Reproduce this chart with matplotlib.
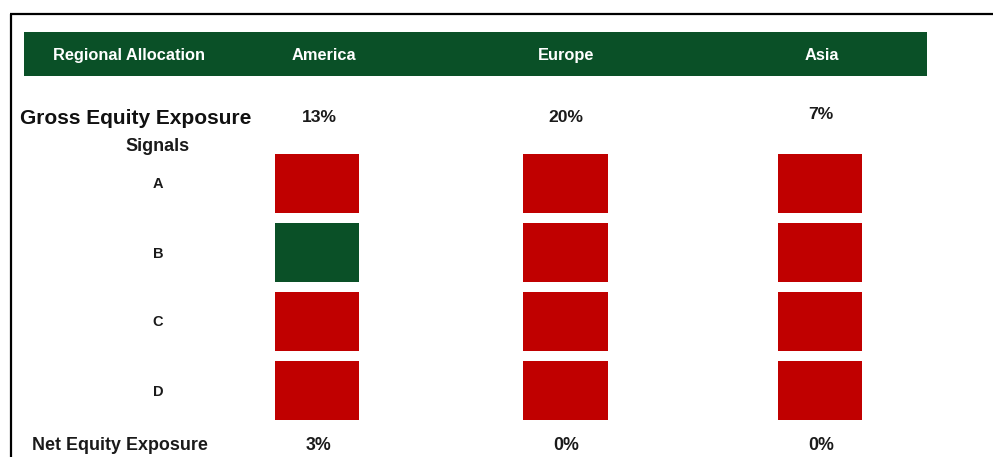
import matplotlib.pyplot as plt

plt.rcParams['font.family'] = ['Liberation Sans', 'DejaVu Sans']

regions = ['America', 'Europe', 'Asia']
gross_exposure = ['13%', '20%', '7%']
net_exposure = ['3%', '0%', '0%']
signal_names = ['A', 'B', 'C', 'D']
# 1 = positive (green), 0 = negative (red)
signals = {
    'America': [0, 1, 0, 0],
    'Europe': [0, 0, 0, 0],
    'Asia': [0, 0, 0, 0],
}

green = '#0a5027'
red = '#c00000'
ink = '#1a1a1a'

# layout, in pixels of the 993x457 picture (text y = baseline)
col_x = [319, 566, 821]
box_x = [317, 565, 820]
box_w = [84, 85, 84]
row_top = [154, 223, 292, 361]
box_h = 59

fig = plt.figure(figsize=(9.93, 4.57), dpi=100)
ax = fig.add_axes([0, 0, 1, 1])
ax.set_xlim(0, 993)
ax.set_ylim(457, 0)
ax.axis('off')

# frame lines
ax.plot([10, 993], [14, 14], color='black', lw=1.6, solid_capstyle='butt')
ax.plot([11, 11], [14, 457], color='black', lw=1.6, solid_capstyle='butt')

# header band
ax.barh(54, 903, height=44, left=24, color=green)
ax.text(129, 60, 'Regional Allocation', color='white', fontsize=11.8,
        fontweight='bold', ha='center', va='baseline')
for x, name in zip([324, 566, 822], regions):
    ax.text(x, 60, name, color='white', fontsize=11.8, fontweight='bold',
            ha='center', va='baseline')

ax.text(136, 124, 'Gross Equity Exposure', fontsize=15, fontweight='bold',
        ha='center', va='baseline', color='#111111')
for x, v, y in zip(col_x, gross_exposure, [122, 122, 119]):
    ax.text(x, y, v, fontsize=12.6, fontweight='bold', ha='center',
            va='baseline', color=ink)

ax.text(158, 151, 'Signals', fontsize=13, fontweight='bold', ha='center',
        va='baseline', color=ink)

for i, s in enumerate(signal_names):
    ax.text(158, row_top[i] + box_h / 2 + 5, s, fontsize=10.5,
            fontweight='bold', ha='center', va='baseline', color=ink)

for j, reg in enumerate(regions):
    cols = [green if v else red for v in signals[reg]]
    ax.bar([box_x[j]] * len(row_top), [box_h] * len(row_top),
           width=box_w[j], bottom=row_top, color=cols)

ax.text(120, 450, 'Net Equity Exposure', fontsize=12.9, fontweight='bold',
        ha='center', va='baseline', color=ink)
for x, v in zip(col_x, net_exposure):
    ax.text(x, 450, v, fontsize=12.8, fontweight='bold', ha='center',
            va='baseline', color=ink)

fig.savefig('out.png', dpi=100, facecolor='white')
